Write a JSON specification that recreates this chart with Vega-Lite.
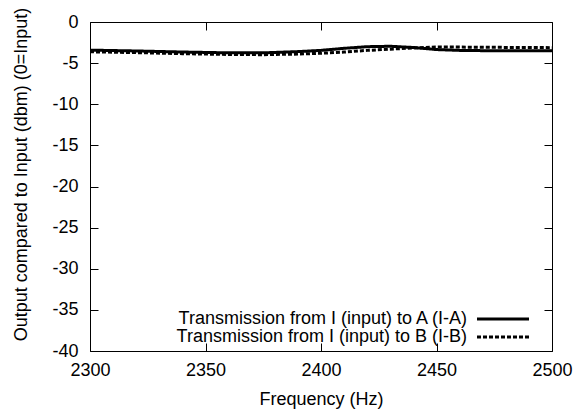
{
  "$schema": "https://vega.github.io/schema/vega-lite/v6.json",
  "width": 462,
  "height": 329,
  "autosize": {"type": "none"},
  "padding": {"left": 90, "top": 22, "right": 26, "bottom": 60},
  "background": "white",
  "config": {
    "view": {"stroke": "black", "strokeWidth": 1},
    "font": "Liberation Sans",
    "axis": {
      "grid": false,
      "domain": false,
      "tickColor": "black",
      "tickWidth": 1,
      "labelFont": "Liberation Sans",
      "labelFontSize": 18,
      "labelColor": "black",
      "labelFlush": false,
      "titleFont": "Liberation Sans",
      "titleFontSize": 18,
      "titleFontWeight": "normal",
      "titleColor": "black"
    }
  },
  "data": {
    "values": [
      {"freq": 2300, "value": -3.42, "series": "Transmission from I (input) to A (I-A)"},
      {"freq": 2320, "value": -3.52, "series": "Transmission from I (input) to A (I-A)"},
      {"freq": 2340, "value": -3.65, "series": "Transmission from I (input) to A (I-A)"},
      {"freq": 2360, "value": -3.75, "series": "Transmission from I (input) to A (I-A)"},
      {"freq": 2375, "value": -3.75, "series": "Transmission from I (input) to A (I-A)"},
      {"freq": 2390, "value": -3.6, "series": "Transmission from I (input) to A (I-A)"},
      {"freq": 2400, "value": -3.45, "series": "Transmission from I (input) to A (I-A)"},
      {"freq": 2410, "value": -3.2, "series": "Transmission from I (input) to A (I-A)"},
      {"freq": 2420, "value": -3.0, "series": "Transmission from I (input) to A (I-A)"},
      {"freq": 2430, "value": -2.95, "series": "Transmission from I (input) to A (I-A)"},
      {"freq": 2440, "value": -3.1, "series": "Transmission from I (input) to A (I-A)"},
      {"freq": 2450, "value": -3.35, "series": "Transmission from I (input) to A (I-A)"},
      {"freq": 2460, "value": -3.45, "series": "Transmission from I (input) to A (I-A)"},
      {"freq": 2475, "value": -3.5, "series": "Transmission from I (input) to A (I-A)"},
      {"freq": 2490, "value": -3.5, "series": "Transmission from I (input) to A (I-A)"},
      {"freq": 2500, "value": -3.48, "series": "Transmission from I (input) to A (I-A)"},
      {"freq": 2300, "value": -3.62, "series": "Transmission from I (input) to B (I-B)"},
      {"freq": 2320, "value": -3.72, "series": "Transmission from I (input) to B (I-B)"},
      {"freq": 2340, "value": -3.85, "series": "Transmission from I (input) to B (I-B)"},
      {"freq": 2360, "value": -3.95, "series": "Transmission from I (input) to B (I-B)"},
      {"freq": 2375, "value": -3.97, "series": "Transmission from I (input) to B (I-B)"},
      {"freq": 2390, "value": -3.9, "series": "Transmission from I (input) to B (I-B)"},
      {"freq": 2400, "value": -3.8, "series": "Transmission from I (input) to B (I-B)"},
      {"freq": 2410, "value": -3.65, "series": "Transmission from I (input) to B (I-B)"},
      {"freq": 2420, "value": -3.45, "series": "Transmission from I (input) to B (I-B)"},
      {"freq": 2430, "value": -3.3, "series": "Transmission from I (input) to B (I-B)"},
      {"freq": 2440, "value": -3.15, "series": "Transmission from I (input) to B (I-B)"},
      {"freq": 2450, "value": -3.05, "series": "Transmission from I (input) to B (I-B)"},
      {"freq": 2460, "value": -3.05, "series": "Transmission from I (input) to B (I-B)"},
      {"freq": 2475, "value": -3.08, "series": "Transmission from I (input) to B (I-B)"},
      {"freq": 2490, "value": -3.1, "series": "Transmission from I (input) to B (I-B)"},
      {"freq": 2500, "value": -3.12, "series": "Transmission from I (input) to B (I-B)"}
    ]
  },
  "layer": [
    {
      "mark": {"type": "line", "strokeWidth": 3, "color": "black"},
      "encoding": {
        "x": {
          "field": "freq", "type": "quantitative",
          "scale": {"domain": [2300, 2500], "nice": false, "zero": false},
          "axis": {
            "orient": "bottom",
            "values": [2300, 2350, 2400, 2450, 2500],
            "labelExpr": "'' + datum.value",
            "tickSize": -8,
            "labelPadding": 18,
            "title": "Frequency (Hz)",
            "titleX": 231,
            "titleY": 53,
            "titleBaseline": "alphabetic",
            "titleAnchor": "middle"
          }
        },
        "y": {
          "field": "value", "type": "quantitative",
          "scale": {"domain": [-40, 0], "nice": false, "zero": false},
          "axis": {
            "orient": "left",
            "values": [0, -5, -10, -15, -20, -25, -30, -35, -40],
            "labelExpr": "'' + datum.value",
            "tickSize": -8,
            "labelPadding": 20,
            "title": "Output compared to Input (dbm) (0=Input)",
            "titleX": -69,
            "titleY": 152,
            "titleBaseline": "middle",
            "titleAlign": "center",
            "titleAngle": 270
          }
        },
        "strokeDash": {
          "field": "series", "type": "nominal",
          "scale": {
            "domain": ["Transmission from I (input) to A (I-A)", "Transmission from I (input) to B (I-B)"],
            "range": [[1, 0], [4, 2]]
          },
          "legend": {
            "orient": "none",
            "legendX": 404,
            "legendY": 288,
            "title": null,
            "symbolType": "M-26,0H26",
            "symbolSize": 4,
            "symbolStrokeWidth": 3,
            "symbolStrokeColor": "black",
            "labelFont": "Liberation Sans",
            "labelFontSize": 18,
            "labelColor": "black",
            "labelAlign": "right",
            "labelOffset": -45,
            "labelLimit": 0,
            "rowPadding": -18,
            "padding": 0
          }
        }
      }
    },
    {
      "mark": {"type": "point", "opacity": 0},
      "encoding": {
        "x": {
          "field": "freq", "type": "quantitative",
          "axis": {"orient": "top", "values": [2300, 2350, 2400, 2450, 2500], "tickSize": -8, "labels": false, "title": null}
        },
        "y": {
          "field": "value", "type": "quantitative",
          "axis": {"orient": "right", "values": [0, -5, -10, -15, -20, -25, -30, -35, -40], "tickSize": -8, "labels": false, "title": null}
        }
      }
    }
  ],
  "resolve": {
    "scale": {"x": "shared", "y": "shared", "strokeDash": "shared"},
    "axis": {"x": "independent", "y": "independent"}
  }
}
